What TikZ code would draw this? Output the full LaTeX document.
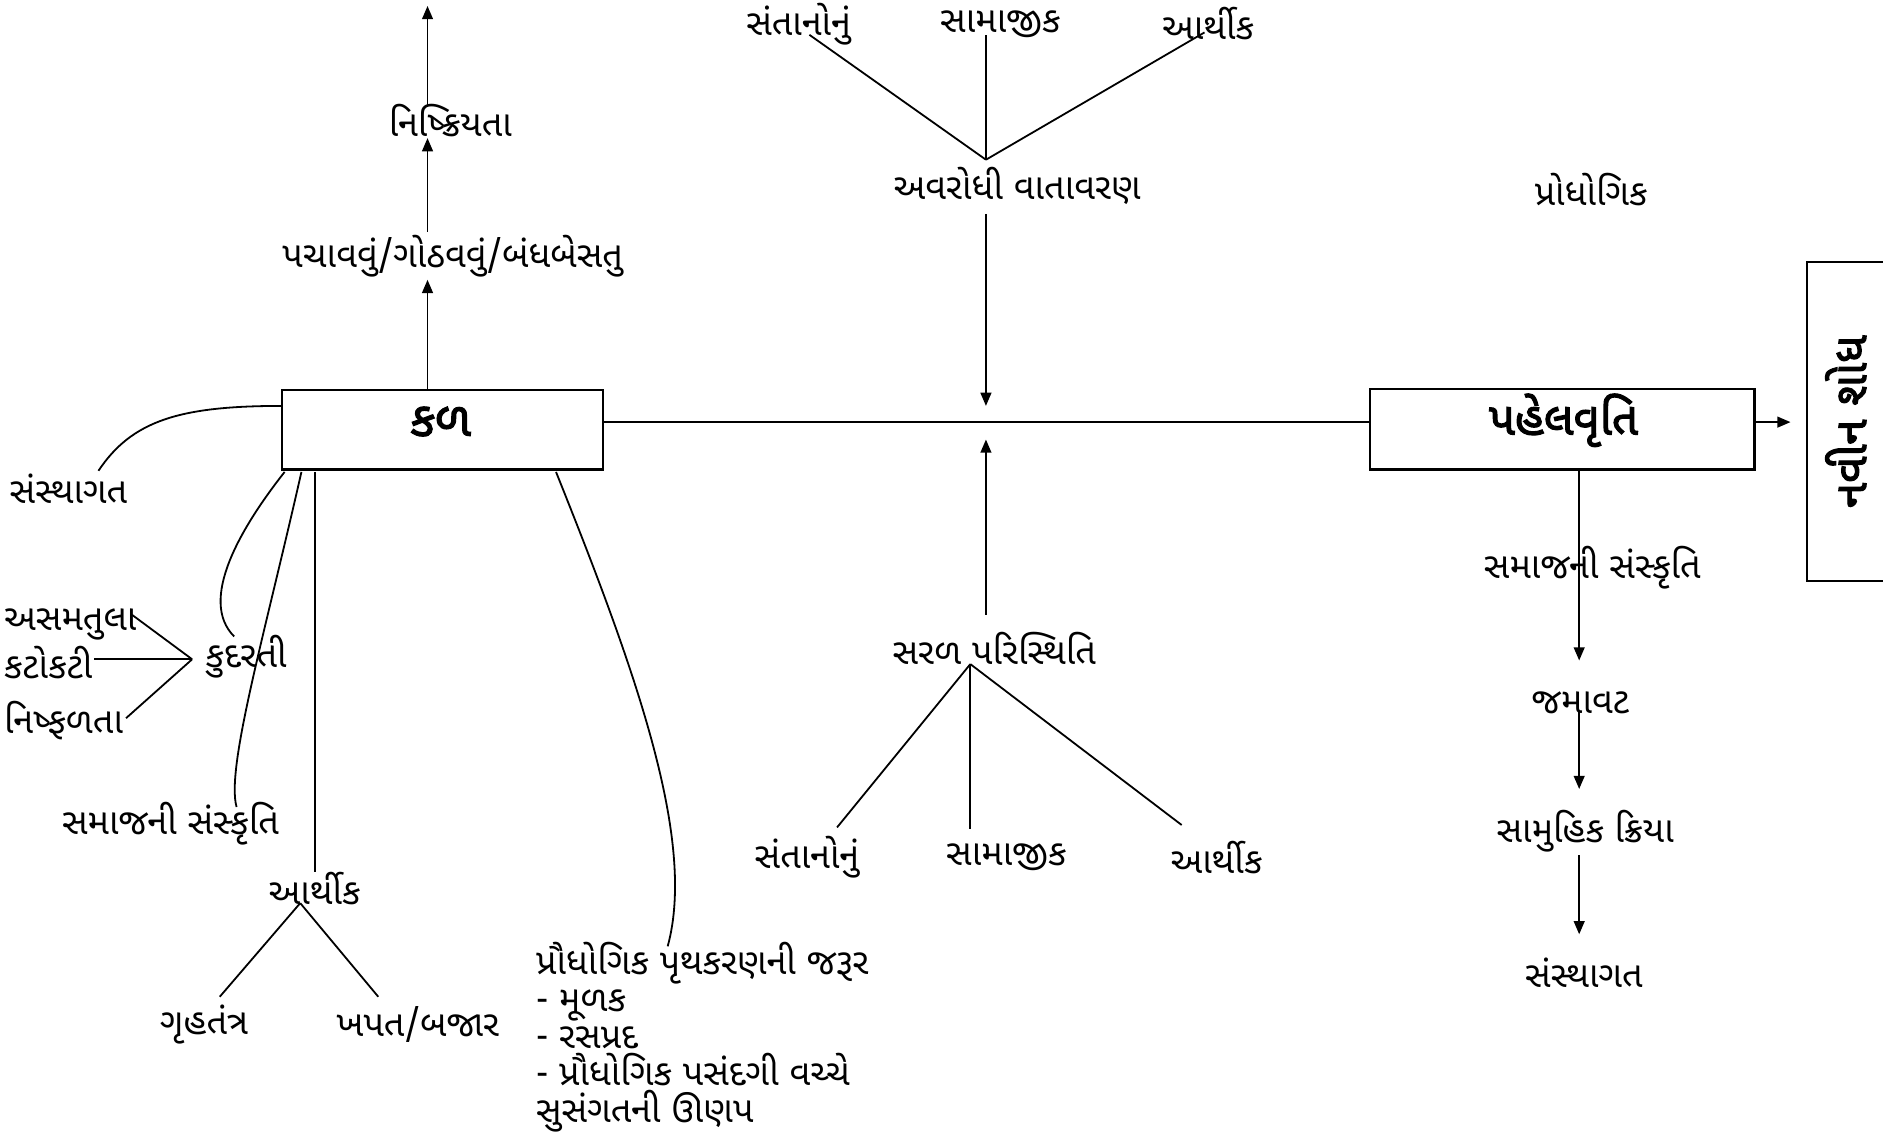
\documentclass[tikz,border=0pt]{standalone}
\usepackage{fontspec}
\newfontfamily\guj[Script=Gujarati]{Noto Sans Gujarati UI}
\newfontfamily\gujb[Script=Gujarati,FakeBold=2.5]{Noto Sans Gujarati UI}
\usetikzlibrary{arrows.meta}
\begin{document}
\begin{tikzpicture}[x=0.5pt,y=-0.5pt,
  lbl/.style={font=\guj\fontsize{15}{16}\selectfont, inner sep=0pt},
  blbl/.style={font=\gujb\fontsize{19}{22}\selectfont, inner sep=0pt},
  ln/.style={line width=0.75pt},
  arr/.style={line width=0.75pt, -{Triangle[length=5.5pt,width=4.5pt]}},
  boxst/.style={draw, line width=0.9pt, inner sep=0pt}]
\clip (0,0) rectangle (1568,947);
\fill[white] (0,0) rectangle (1568,947);

% ---------- boxes ----------
\node[boxst, minimum width=133.5pt, minimum height=33pt] (kal) at (368.5,358) {};
\node[blbl, font=\gujb\fontsize{20}{22}\selectfont] (kalt) at (367,351) {કળ};
\node[boxst, minimum width=160pt, minimum height=33.5pt] (pahel) at (1301,357.5) {};
\node[blbl] (pahelt) at (1302,350) {પહેલવૃતિ};
\node[boxst, minimum width=133pt, minimum height=37.5pt, rotate=90] (navin) at (1542.5,351) {};
\node[blbl, rotate=90] (navint) at (1537,351) {નવીન શોધ};

\coordinate (hl) at (0,351.5);
\draw[ln] (kal.east |- hl) -- (pahel.west |- hl);
\coordinate (navtip) at (1491,351.5);
\draw[arr] (pahel.east |- hl) -- (navtip);

% ---------- upward chain ----------
\node[lbl] (pach) at (377,213) {પચાવવું/ગોઠવવું/બંધબેસતુ};
\node[lbl] (nish) at (375,100) {નિષ્ક્રિયતા};
\coordinate (u0) at (356,325);
\coordinate (u1) at (356,233);
\coordinate (u2) at (356,193);
\coordinate (u3) at (356,115);
\coordinate (u4) at (356,89);
\coordinate (u5) at (356,5);
\draw[arr] (u0) -- (u1);
\draw[arr] (u2) -- (u3);
\draw[arr] (u4) -- (u5);

% ---------- top centre ----------
\node[lbl] (t1) at (665,20) {સંતાનોનું};
\node[lbl] (t2) at (833,20) {સામાજીક};
\node[lbl] (t3) at (1006,20) {આર્થીક};
\node[lbl] (av) at (847,155) {અવરોધી વાતાવરણ};
\coordinate (avtop) at (821,133);
\coordinate (t1e) at (674,29);
\coordinate (t2e) at (821,29);
\coordinate (t3e) at (1003,27);
\draw[ln] (avtop) -- (t1e);
\draw[ln] (avtop) -- (t2e);
\draw[ln] (avtop) -- (t3e);
\coordinate (avs) at (821,178);
\coordinate (avtip) at (821,338);
\draw[arr] (avs) -- (avtip);

\node[lbl] (prodh) at (1325,158) {પ્રોધોગિક};

% ---------- bottom centre ----------
\node[lbl] (sp) at (828,540) {સરળ પરિસ્થિતિ};
\coordinate (spn) at (821,512);
\coordinate (sptip) at (821,366);
\draw[arr] (spn) -- (sptip);
\coordinate (spap) at (808,553);
\node[lbl] (b1) at (672,714) {સંતાનોનું};
\node[lbl] (b2) at (838,714) {સામાજીક};
\node[lbl] (b3) at (1013,714) {આર્થીક};
\coordinate (b1e) at (697,689);
\coordinate (b2e) at (808,690);
\coordinate (b3e) at (984,687);
\draw[ln] (spap) -- (b1e);
\draw[ln] (spap) -- (b2e);
\draw[ln] (spap) -- (b3e);

% ---------- left side ----------
\node[lbl] (sanst) at (57,407) {સંસ્થાગત};
\coordinate (sanse) at (82,392);
\coordinate (kalw) at (235,338);
\draw[ln] (sanse) .. controls (110,350) and (150,338) .. (kalw);

\node[lbl] (kud) at (205,547) {કુદરતી};
\node[lbl, anchor=west] (asam) at (3,520) {અસમતુલા};
\node[lbl, anchor=west] (katok) at (3,552) {કટોકટી};
\node[lbl, anchor=west] (nishf) at (3,600) {નિષ્ફળતા};
\coordinate (kudap) at (160,549);
\coordinate (asame) at (110,512);
\coordinate (katoke) at (78,549);
\coordinate (nishfe) at (105,598);
\draw[ln] (kudap) -- (asame);
\draw[ln] (kudap) -- (katoke);
\draw[ln] (kudap) -- (nishfe);

\coordinate (ka) at (237,393);
\coordinate (kudt) at (195,530);
\draw[ln] (ka) .. controls (200,440) and (165,500) .. (kudt);

\node[lbl] (samaj) at (142,686) {સમાજની સંસ્કૃતિ};
\coordinate (kb) at (251,393);
\coordinate (samajt) at (197,672);
\draw[ln] (kb) .. controls (220,530) and (188,640) .. (samajt);

\node[lbl] (arth) at (262,740) {આર્થીક};
\coordinate (kc) at (262,393);
\coordinate (artht) at (262,726);
\draw[ln] (kc) -- (artht);
\coordinate (arap) at (250,752);
\node[lbl] (gruh) at (170,853) {ગૃહતંત્ર};
\node[lbl] (khap) at (348,853) {ખપત/બજાર};
\coordinate (gruhe) at (183,830);
\coordinate (khape) at (315,830);
\draw[ln] (arap) -- (gruhe);
\draw[ln] (arap) -- (khape);

\coordinate (kd) at (463,393);
\coordinate (prt) at (556,788);
\draw[ln] (kd) .. controls (530,560) and (580,700) .. (prt);
\node[lbl, anchor=north west, align=left, font=\guj\fontsize{15}{15.4}\selectfont] (prth) at (446,784)
  {પ્રૌધોગિક પૃથકરણની જરૂર\\- મૂળક\\- રસપ્રદ\\- પ્રૌધોગિક પસંદગી વચ્ચે\\સુસંગતની ઊણપ};

% ---------- right column ----------
\node[lbl] (r1) at (1326,473) {સમાજની સંસ્કૃતિ};
\node[lbl] (r2) at (1316,585) {જમાવટ};
\node[lbl] (r3) at (1320,692) {સામુહિક ક્રિયા};
\node[lbl] (r4) at (1319,810) {સંસ્થાગત};
\coordinate (p0) at (1315,391);
\coordinate (p1) at (1315,550);
\coordinate (p2) at (1315,592);
\coordinate (p3) at (1315,657);
\coordinate (p4) at (1315,712);
\coordinate (p5) at (1315,778);
\draw[arr] (p0) -- (p1);
\draw[arr] (p2) -- (p3);
\draw[arr] (p4) -- (p5);
\end{tikzpicture}
\end{document}
